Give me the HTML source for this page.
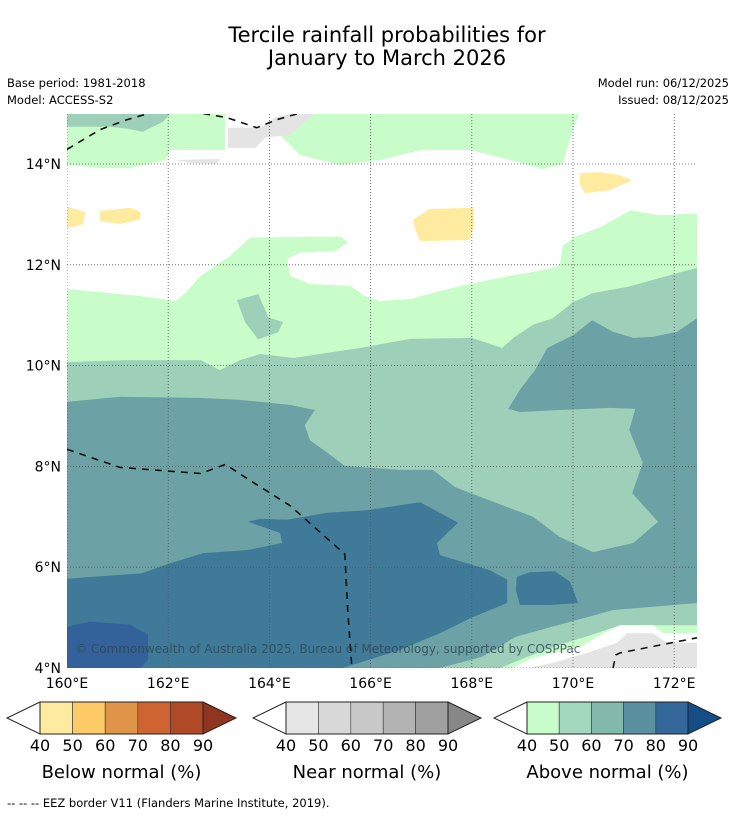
<!DOCTYPE html>
<html><head><meta charset="utf-8"><style>
html,body{margin:0;padding:0;background:#fff;}
svg{display:block;font-family:"DejaVu Sans","Liberation Sans",sans-serif;}
</style></head><body>
<svg id="c" width="736" height="816" viewBox="0 0 736 816" xmlns="http://www.w3.org/2000/svg">
<text x="387" y="42" font-size="21" text-anchor="middle">Tercile rainfall probabilities for</text>
<text x="387" y="65" font-size="21" text-anchor="middle">January to March 2026</text>
<text x="7" y="87" font-size="11.5">Base period: 1981-2018</text>
<text x="7" y="104" font-size="11.5">Model: ACCESS-S2</text>
<text x="729" y="87" font-size="11.5" text-anchor="end">Model run: 06/12/2025</text>
<text x="729" y="104" font-size="11.5" text-anchor="end">Issued: 08/12/2025</text>
<defs><clipPath id="mc"><rect x="67" y="114" width="630" height="554"/></clipPath></defs>
<g id="map" clip-path="url(#mc)"></g>
<g id="axes"></g>
<g id="cbars"></g>
<text x="7" y="807" font-size="11.5">--  --  -- EEZ border V11 (Flanders Marine Institute, 2019).</text>
</svg>
<script>
const lonTicks=[160,162,164,166,168,170,172];
const latTicks=[14,12,10,8,6,4];
const cbLabels=[40,50,60,70,80,90];
const belowColors=['#ffeb9f','#fecb66','#e09448','#cd6432','#b04a26','#8f3520'];
const nearColors=['#e6e6e6','#d8d8d8','#c8c8c8','#b3b3b3','#a0a0a0','#878787'];
const aboveColors=['#c8fcc8','#a3d8be','#83b9ac','#5a90a0','#336799','#154e87'];
const regions=[
 {c:'#c8fcc8',n:'above-40-main',p:[160,11.52,161.45,11.38,162.14,11.28,162.34,11.44,162.64,11.78,163.23,12.18,163.62,12.54,165.4,12.56,165.56,12.44,165.3,12.28,164.6,12.24,164.35,12.12,164.41,11.78,164.8,11.62,165.6,11.58,165.89,11.38,166.19,11.28,166.78,11.32,167.37,11.48,167.96,11.62,168.75,11.78,169.35,11.88,169.74,11.98,169.8,12.38,170.04,12.56,170.53,12.74,171.13,13.08,171.72,12.98,172.45,13.02,172.45,4,160,4]},
 {c:'#c8fcc8',n:'above-40-top-left',p:[160,15,163.12,15,163.12,14.28,162.04,14.28,161.94,14.08,161.25,13.92,160.65,13.92,160,13.98]},
 {c:'#c8fcc8',n:'above-40-top-center',p:[164.21,14.68,164.6,14.92,164.8,15,170.12,15,169.96,14.58,169.8,14.0,169.4,13.9,168.75,14.08,167.96,14.28,167.0,14.28,166.19,14.08,165.4,13.98,164.6,14.18,164.21,14.58]},
 {c:'#9ed0b9',n:'above-50-main',p:[160,10.07,161.25,10.11,162.64,10.11,163.02,9.91,163.42,10.11,163.82,10.23,164.47,10.15,165.79,10.35,166.78,10.53,168.0,10.55,168.6,10.35,168.82,10.55,169.21,10.81,169.6,10.94,170.0,11.26,170.4,11.44,171.07,11.56,171.72,11.74,172.45,11.94,172.45,4,160,4]},
 {c:'#9ed0b9',n:'above-50-island',p:[163.36,11.3,163.78,11.42,163.98,10.96,164.27,10.86,164.17,10.66,163.78,10.52,163.52,10.86]},
 {c:'#9ed0b9',n:'above-50-top-left',p:[160,15,162.04,15,161.9,14.84,161.5,14.64,161.19,14.7,160.85,14.74,160,14.74]},
 {c:'#6ca2a5',n:'above-60-main',p:[172.45,10.94,172.06,10.67,171.58,10.57,171.19,10.55,170.79,10.67,170.38,10.9,170.0,10.6,169.49,10.35,169.25,9.91,168.95,9.52,168.72,9.14,168.95,9.08,169.74,9.12,170.73,9.16,171.23,9.14,171.11,8.72,171.38,8.07,171.17,7.47,171.68,6.9,171.19,6.48,170.4,6.3,169.74,6.6,169.21,7.0,168.5,7.27,167.67,7.59,167.23,7.93,166.58,7.93,165.49,8.01,165.2,8.23,164.8,8.52,164.7,8.82,164.9,9.12,164.41,9.22,163.42,9.32,162.63,9.36,161.05,9.38,160,9.28,160,4,172.45,4]},
 {c:'#3f7a99',n:'above-70-main',p:[160,5.77,161.48,5.88,162.04,6.08,162.69,6.28,163.56,6.34,164.25,6.48,164.21,6.68,163.58,6.9,163.81,6.96,164.35,6.94,165.14,7.08,165.93,7.13,166.98,7.29,167.73,6.88,167.31,6.48,167.37,6.24,168.36,5.94,168.7,5.75,168.7,5.29,168.02,5.01,167.37,4.69,166.58,4.36,165.45,4,160,4]},
 {c:'#3f7a99',n:'above-70-island',p:[168.89,5.81,169.15,5.9,169.64,5.92,169.94,5.71,170.1,5.29,169.55,5.25,168.95,5.25,168.87,5.55]},
 {c:'#33629a',n:'above-80-west',p:[160,4.82,160.45,4.92,161.25,4.86,161.6,4.66,161.6,4.16,161.45,4,160,4]},
 {c:'#9ed0b9',n:'above-50-south-band',p:[167.37,4,168.2,4.22,168.87,4.62,169.55,4.81,170.8,5.15,172.45,5.29,172.45,4]},
 {c:'#c8fcc8',n:'above-40-south-band',p:[168.56,4,169.09,4.22,169.74,4.46,170.34,4.65,170.93,4.85,172.45,4.85,172.45,4]},
 {c:'#ffffff',n:'white-south-band',p:[168.8,4,169.21,4.2,170.14,4.42,170.53,4.65,170.93,4.85,171.58,4.85,171.78,4.69,172.45,4.69,172.45,4]},
 {c:'#e4e4e4',n:'near-40-south-band',p:[169.09,4,169.6,4.1,170.28,4.3,170.87,4.5,171.07,4.69,171.58,4.69,171.86,4.5,172.45,4.5,172.45,4]},
 {c:'#ffeb9f',n:'below-40-west',p:[160,13.15,160.36,13.05,160.32,12.8,160,12.73]},
 {c:'#ffeb9f',n:'below-40-a',p:[160.65,13.07,161.25,13.13,161.45,13.05,161.45,12.9,161.05,12.81,160.65,12.87]},
 {c:'#ffeb9f',n:'below-40-b',p:[166.84,12.9,167.17,13.11,168.03,13.13,168.05,12.8,167.96,12.49,166.98,12.47,166.88,12.7]},
 {c:'#ffeb9f',n:'below-40-c',p:[170.14,13.82,170.53,13.84,170.93,13.78,171.17,13.68,170.73,13.48,170.24,13.42,170.14,13.58]},
 {c:'#e4e4e4',n:'near-40-top',p:[163.18,14.72,163.82,14.72,164.11,14.92,164.41,15,164.9,15,164.41,14.58,163.92,14.52,163.72,14.32,163.18,14.32]},
 {c:'#e4e4e4',n:'near-40-top-sliver',p:[162.14,14.08,163.03,14.1,162.94,14.0,162.44,14.02]}
];
const eezLines=[
 [160,14.29,160.65,14.68,161.19,14.88,161.6,15.0],
 [162.69,15,163.16,14.92,163.75,14.72,164.15,14.88,164.57,15],
 [160,8.34,161.05,7.98,162.64,7.86,163.13,8.04,163.62,7.72,164.41,7.22,165.49,6.26,165.55,5.13,165.63,4],
 [170.79,4,170.85,4.26,170.93,4.3,172.45,4.6]
];
const NS='http://www.w3.org/2000/svg';
const X=lon=>67+(lon-160)*50.6;
const Y=lat=>668-(lat-4)*50.4;
function mk(tag,at,parent){const e=document.createElementNS(NS,tag);for(const k in at)e.setAttribute(k,at[k]);parent.appendChild(e);return e;}
const map=document.getElementById('map');
const axes=document.getElementById('axes');
const bg=mk('rect',{x:67,y:114,width:630,height:554,fill:'#fff'},map);


regions.forEach(r=>{let pts=[];for(let i=0;i<r.p.length;i+=2)pts.push(X(r.p[i]).toFixed(1)+','+Y(r.p[i+1]).toFixed(1));
 const e=mk('polygon',{points:pts.join(' '),fill:r.c},map);
 
 });
lonTicks.forEach(l=>{const e=mk('line',{x1:X(l),x2:X(l),y1:114,y2:668,stroke:'#555',"stroke-width":0.8,"stroke-dasharray":'1,2'},map);
 
 
 const t=mk('text',{x:X(l),y:688,"font-size":14,"text-anchor":'middle'},axes);t.textContent=l+'°E';
 
 });
latTicks.forEach(l=>{const e=mk('line',{x1:67,x2:697,y1:Y(l),y2:Y(l),stroke:'#555',"stroke-width":0.8,"stroke-dasharray":'1,2'},map);
 
 
 const t=mk('text',{x:61,y:Y(l)+5,"font-size":14,"text-anchor":'end'},axes);t.textContent=l+'°N';
 
 });
eezLines.forEach(L=>{let pts=[];for(let i=0;i<L.length;i+=2)pts.push(X(L[i]).toFixed(1)+','+Y(L[i+1]).toFixed(1));
 const e=mk('polyline',{points:pts.join(' '),fill:'none',stroke:'#111',"stroke-width":1.6,"stroke-dasharray":'7,6'},map);
 
 });
const cp=mk('text',{x:75,y:653,"font-size":12,fill:'#2e4652',"fill-opacity":0.8},map);cp.textContent='© Commonwealth of Australia 2025, Bureau of Meteorology, supported by COSPPac';


const cb=document.getElementById('cbars');
const bars=[{x0:40,x1:203,cols:belowColors,t:'Below normal (%)',n:'below'},{x0:286,x1:448,cols:nearColors,t:'Near normal (%)',n:'near'},{x0:527,x1:688,cols:aboveColors,t:'Above normal (%)',n:'above'}];
bars.forEach(b=>{const w=(b.x1-b.x0)/5,y0=702,y1=734,ym=718;
 const lt=mk('polygon',{points:`${b.x0},${y0} ${b.x0-33},${ym} ${b.x0},${y1}`,fill:'#fff',stroke:'#222',"stroke-width":1},cb);
 
 
 for(let i=0;i<5;i++){const r=mk('rect',{x:b.x0+i*w,y:y0,width:w,height:y1-y0,fill:b.cols[i],stroke:'#333',"stroke-width":0.6},cb);
  
  }
 const rt=mk('polygon',{points:`${b.x1},${y0} ${b.x1+33},${ym} ${b.x1},${y1}`,fill:b.cols[5],stroke:'#222',"stroke-width":1},cb);
 
 
 mk('rect',{x:b.x0,y:y0,width:b.x1-b.x0,height:y1-y0,fill:'none',stroke:'#222',"stroke-width":1},cb);
 cbLabels.forEach((v,i)=>{const t=mk('text',{x:b.x0+i*w,y:751,"font-size":16,"text-anchor":'middle'},cb);t.textContent=v;
  
  });
 const tt=mk('text',{x:(b.x0+b.x1)/2,y:778,"font-size":18,"text-anchor":'middle'},cb);tt.textContent=b.t;
 
 });
</script>
</body></html>
